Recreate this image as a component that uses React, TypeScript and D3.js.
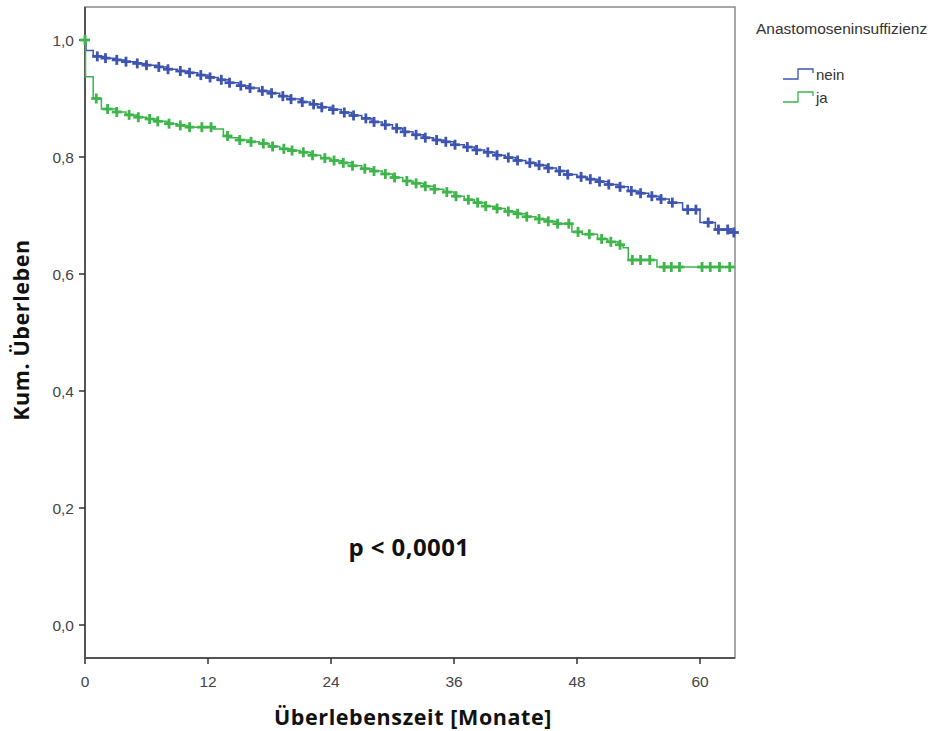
import React from "react";
import * as d3 from "d3";

// ---- Data ----
const neinTimes = [0, 0.1, 0.8, 2, 3, 4, 5, 6, 7, 8, 9, 10, 11, 12, 13, 14, 15, 16, 17, 18, 19, 20, 21, 22, 23, 24, 25, 26, 27, 28, 29, 30, 31, 32, 33, 34, 35, 36, 37, 38, 39, 40, 41, 42, 43, 44, 45, 46, 47, 48, 49, 50, 51, 52, 53, 54, 55, 56, 57, 58.3, 60, 61.5, 62.8];
const neinSurv = [1.0, 0.982, 0.972, 0.969, 0.966, 0.963, 0.96, 0.957, 0.954, 0.95, 0.947, 0.944, 0.94, 0.936, 0.932, 0.927, 0.922, 0.918, 0.913, 0.909, 0.904, 0.899, 0.894, 0.89, 0.885, 0.881, 0.876, 0.871, 0.866, 0.86, 0.855, 0.849, 0.843, 0.838, 0.833, 0.829, 0.826, 0.821, 0.817, 0.812, 0.808, 0.803, 0.799, 0.794, 0.79, 0.786, 0.781, 0.776, 0.77, 0.766, 0.762, 0.758, 0.753, 0.749, 0.742, 0.738, 0.733, 0.728, 0.722, 0.71, 0.688, 0.676, 0.671];
const neinCensored = [1.2, 2.0, 3.1, 4.0, 5.1, 6.0, 7.2, 8.1, 9.3, 10.2, 11.3, 12.2, 13.3, 14.1, 15.2, 16.1, 17.3, 18.2, 19.3, 20.1, 21.2, 22.3, 23.1, 24.2, 25.3, 26.2, 27.4, 28.2, 29.3, 30.4, 31.2, 32.3, 33.2, 34.3, 35.2, 36.1, 37.3, 38.2, 39.3, 40.2, 41.3, 42.2, 43.4, 44.3, 45.2, 46.3, 47.1, 48.4, 49.3, 50.2, 51.1, 52.2, 53.3, 54.2, 55.3, 56.2, 57.3, 58.8, 59.6, 60.8, 61.8, 62.7, 63.3];

const jaTimes = [0, 0.05, 0.8, 1.6, 3, 4, 5, 6, 7, 8, 9, 10, 12.5, 13.5, 14, 15, 16, 17, 18, 19, 20, 21, 22, 23, 24, 25, 26, 27, 28, 29, 30, 31, 32, 33, 34, 35, 36, 37, 38, 39, 40, 41, 42, 43, 44, 45, 46, 47.5, 48.5, 50, 51, 52, 52.5, 53, 55.8];
const jaSurv = [1.0, 0.937, 0.9, 0.882, 0.877, 0.872, 0.868, 0.865, 0.861, 0.857, 0.854, 0.851, 0.848, 0.836, 0.833, 0.829, 0.826, 0.823, 0.818, 0.814, 0.811, 0.808, 0.803, 0.798, 0.794, 0.79, 0.785, 0.78, 0.776, 0.771, 0.765, 0.759, 0.755, 0.75, 0.745, 0.74, 0.733, 0.727, 0.722, 0.716, 0.712, 0.707, 0.703, 0.698, 0.694, 0.69, 0.686, 0.672, 0.668, 0.66, 0.655, 0.65, 0.645, 0.624, 0.612];
const jaCensored = [0, 1.1, 2.2, 3.1, 4.3, 5.2, 6.3, 7.1, 8.2, 9.3, 10.2, 11.4, 12.3, 13.9, 15.1, 16.2, 17.4, 18.3, 19.4, 20.2, 21.3, 22.2, 23.4, 24.3, 25.2, 26.1, 27.3, 28.2, 29.3, 30.2, 31.4, 32.3, 33.2, 34.1, 35.3, 36.2, 37.4, 38.3, 39.1, 40.2, 41.3, 42.2, 43.1, 44.3, 45.2, 46.1, 47.2, 48.1, 49.2, 50.4, 51.3, 52.2, 53.4, 54.2, 55.1, 56.5, 57.2, 58.0, 60.2, 61.0, 61.9, 62.9];

const xTicks = [0, 12, 24, 36, 48, 60];
const yTicks = [0, 0.2, 0.4, 0.6, 0.8, 1.0];
const seriesNames = ["nein", "ja"];
const seriesColors = ["#3d55b0", "#3db54a"];

const W = 949;
const H = 731;
const frame = { left: 85, top: 7, right: 735, bottom: 658 };

function stepPath(times: number[], surv: number[], tEnd: number, x: any, y: any) {
  const pts: [number, number][] = [];
  for (let i = 0; i < times.length; i++) {
    if (i > 0) pts.push([times[i], surv[i - 1]]);
    pts.push([times[i], surv[i]]);
  }
  pts.push([tEnd, surv[surv.length - 1]]);
  return d3.line().x((d: any) => x(d[0])).y((d: any) => y(d[1]))(pts as any) || "";
}

function survAt(times: number[], surv: number[], t: number) {
  let v = surv[0];
  for (let i = 0; i < times.length; i++) if (times[i] <= t) v = surv[i];
  return v;
}

export default function App() {
  const x = d3.scaleLinear().domain([0, 12]).range([85, 208]);
  const tEnd = x.invert(frame.right);
  const y = d3.scaleLinear().domain([0, 1]).range([625, 40]);

  const series = [
    { times: neinTimes, surv: neinSurv, cens: neinCensored },
    { times: jaTimes, surv: jaSurv, cens: jaCensored },
  ];

  const font = "'Liberation Sans', Arial, sans-serif";
  const boldFont = "'Open Sans', 'Liberation Sans', sans-serif";

  return (
    <svg width={W} height={H} style={{ position: "absolute", left: 0, top: 0, background: "#fff" }}>
      <rect x={0} y={0} width={W} height={H} fill="#fff" />
      <rect x={frame.left} y={frame.top} width={frame.right - frame.left} height={frame.bottom - frame.top} fill="none" stroke="#8a8a8a" strokeWidth={1.5} />
      <line x1={frame.left} x2={frame.left} y1={frame.top} y2={frame.bottom} stroke="#555" strokeWidth={2} />
      <line x1={frame.left} x2={frame.right} y1={frame.bottom} y2={frame.bottom} stroke="#555" strokeWidth={2} />

      {yTicks.map((t) => (
        <g key={"y" + t}>
          <line x1={79} x2={frame.left} y1={y(t)} y2={y(t)} stroke="#333" strokeWidth={1.5} />
          <text x={74} y={y(t) + 6} textAnchor="end" fontFamily={font} fontSize={15.5} fill="#444">
            {d3.format(".1f")(t).replace(".", ",")}
          </text>
        </g>
      ))}
      {xTicks.map((t) => (
        <g key={"x" + t}>
          <line x1={x(t)} x2={x(t)} y1={frame.bottom} y2={frame.bottom + 6} stroke="#333" strokeWidth={1.5} />
          <text x={x(t)} y={687} textAnchor="middle" fontFamily={font} fontSize={15.5} fill="#444">
            {t}
          </text>
        </g>
      ))}

      {series.map((s, i) => (
        <g key={"s" + i}>
          <path d={stepPath(s.times, s.surv, tEnd, x, y)} fill="none" stroke={seriesColors[i]} strokeWidth={1.5} />
          {s.cens.map((c, j) => {
            const cx = x(c);
            const cy = y(survAt(s.times, s.surv, c));
            return (
              <g key={j} stroke={seriesColors[i]} strokeWidth={2.8}>
                <line x1={cx - 5} x2={cx + 5} y1={cy} y2={cy} />
                <line x1={cx} x2={cx} y1={cy - 5} y2={cy + 5} />
              </g>
            );
          })}
        </g>
      ))}

      <text x={409} y={556} textAnchor="middle" fontFamily={boldFont} fontWeight="bold" fontSize={24} letterSpacing={0.4} fill="#111">
        p &lt; 0,0001
      </text>

      <text x={413} y={725} textAnchor="middle" fontFamily={boldFont} fontWeight="bold" fontSize={21.5} letterSpacing={0.6} fill="#111">
        Überlebenszeit [Monate]
      </text>
      <text transform={`translate(29,330) rotate(-90)`} textAnchor="middle" fontFamily={boldFont} fontWeight="bold" fontSize={21.5} letterSpacing={0.6} fill="#111">
        Kum. Überleben
      </text>

      <text x={756} y={34} fontFamily={font} fontSize={15.5} fill="#333">
        Anastomoseninsuffizienz
      </text>
      {seriesNames.map((n, i) => {
        const ly = 76 + i * 23;
        return (
          <g key={n}>
            <path d={`M783,${ly + 3}H798V${ly - 7}H813V${ly - 3}`} fill="none" stroke={seriesColors[i]} strokeWidth={1.3} />
            <text x={816} y={ly + 4} fontFamily={font} fontSize={15} fill="#333">
              {n}
            </text>
          </g>
        );
      })}
    </svg>
  );
}
